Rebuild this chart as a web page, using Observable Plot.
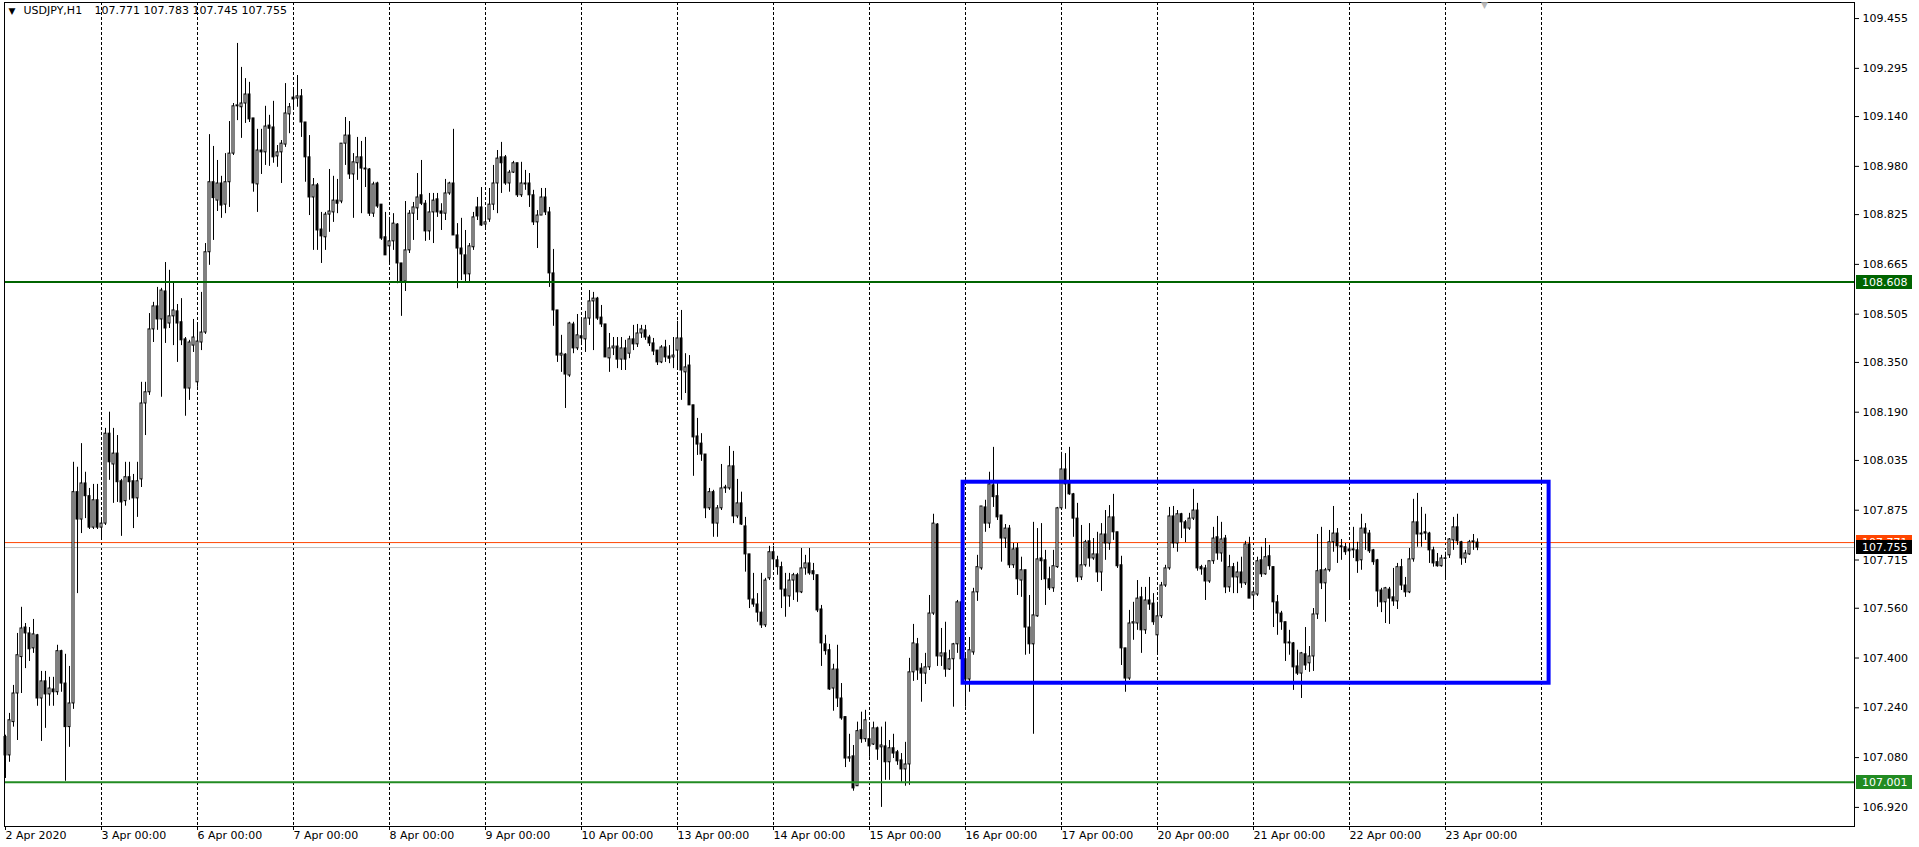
<!DOCTYPE html>
<html><head><meta charset="utf-8">
<script src="https://cdn.jsdelivr.net/npm/d3@7"></script>
<script src="https://cdn.jsdelivr.net/npm/@observablehq/plot@0.6"></script>
<style>html,body{margin:0;padding:0;background:#fff;overflow:hidden}</style>
</head><body><div id="chart"></div>
<script>
// ---- data ----
const symbol = "USDJPY,H1";
const lastOHLC = [107.771, 107.783, 107.745, 107.755];
const dayLabels = ["2 Apr 2020","3 Apr 00:00","6 Apr 00:00","7 Apr 00:00","8 Apr 00:00","9 Apr 00:00","10 Apr 00:00","13 Apr 00:00","14 Apr 00:00","15 Apr 00:00","16 Apr 00:00","17 Apr 00:00","20 Apr 00:00","21 Apr 00:00","22 Apr 00:00","23 Apr 00:00"];
const priceTicks = [109.455,109.295,109.140,108.980,108.825,108.665,108.505,108.350,108.190,108.035,107.875,107.715,107.560,107.400,107.240,107.080,106.920];
const levelUpper = 108.608, levelLower = 107.001;
const askPrice = 107.771, bidPrice = 107.755;
const boxBars = [239.4, 385.9], boxPrices = [107.319, 107.965];
const shiftBar = 369.75;

const open = [
107.146,107.087,107.194,107.286,107.403,107.498,107.479,107.431,107.473,107.270,107.325,107.283,107.299,107.290,107.422,107.318,107.178,107.254,107.933,107.845,107.961,107.920,107.819,107.907,
107.819,107.832,108.121,108.022,108.057,107.968,107.904,107.981,107.968,107.913,107.974,108.218,108.254,108.456,108.530,108.488,108.578,108.475,108.498,108.514,108.479,108.424,108.266,108.404,
108.286,108.414,108.446,108.704,108.929,108.870,108.925,108.857,108.929,109.021,109.173,109.170,109.182,109.211,109.134,108.922,109.031,109.025,109.111,109.105,109.012,109.025,109.050,109.147,
109.201,109.198,109.205,109.121,109.009,108.880,108.919,108.777,108.752,108.825,108.832,108.870,108.867,109.053,109.079,108.954,108.990,109.009,108.973,108.970,108.828,108.925,108.857,108.752,
108.723,108.739,108.793,108.668,108.610,108.710,108.828,108.845,108.887,108.860,108.771,108.832,108.874,108.835,108.828,108.893,108.925,108.758,108.716,108.694,108.633,108.720,108.848,108.848,
108.793,108.809,108.857,108.925,109.009,109.009,108.925,108.960,108.990,108.887,108.925,108.925,108.887,108.800,108.822,108.880,108.832,108.636,108.517,108.372,108.375,108.308,108.472,108.395,
108.434,108.424,108.491,108.546,108.555,108.494,108.472,108.363,108.395,108.401,108.359,108.395,108.378,108.424,108.408,108.443,108.453,108.430,108.411,108.388,108.350,108.398,108.369,108.366,
108.388,108.427,108.318,108.340,108.212,108.112,108.089,108.054,107.881,107.933,107.832,107.881,107.945,107.945,108.016,107.855,107.897,107.823,107.733,107.588,107.572,107.546,107.505,107.656,
107.740,107.714,107.692,107.620,107.598,107.649,107.666,107.611,107.688,107.704,107.679,107.666,107.556,107.444,107.425,107.302,107.363,107.270,107.210,107.077,107.084,106.988,107.168,107.139,
107.139,107.122,107.174,107.113,107.116,107.065,107.110,107.097,107.071,107.042,107.058,107.354,107.444,107.366,107.350,107.370,107.543,107.829,107.405,107.415,107.363,107.396,107.444,107.579,
107.396,107.331,107.418,107.611,107.688,107.884,107.832,107.955,107.920,107.858,107.784,107.816,107.698,107.752,107.649,107.682,107.498,107.444,107.534,107.720,107.714,107.653,107.624,107.692,
107.881,108.006,107.961,107.926,107.848,107.659,107.698,107.775,107.720,107.733,107.675,107.797,107.768,107.852,107.804,107.698,107.431,107.334,107.511,107.511,107.595,107.489,107.585,107.575,
107.473,107.534,107.633,107.688,107.855,107.768,107.862,107.836,107.816,107.848,107.874,107.692,107.688,107.646,107.711,107.788,107.736,107.784,107.627,107.692,107.659,107.675,107.640,107.765,
107.601,107.604,107.714,107.669,107.727,107.692,107.579,107.543,107.515,107.447,107.447,107.373,107.350,107.412,107.383,107.405,107.540,107.682,107.640,107.682,107.772,107.800,107.759,107.756,
107.749,107.746,107.746,107.714,107.816,107.800,107.746,107.714,107.617,107.579,107.620,107.595,107.582,107.692,107.633,107.611,107.717,107.836,107.800,107.804,107.800,107.746,107.708,107.695,
107.720,107.730,107.778,107.820,107.772,107.720,107.733,107.772,107.771];

const high = [
107.152,107.222,107.312,107.479,107.563,107.511,107.498,107.524,107.476,107.357,107.357,107.338,107.338,107.441,107.425,107.412,107.373,108.029,108.013,108.089,107.997,107.945,107.958,107.958,
107.842,108.138,108.190,108.138,108.115,107.974,108.029,108.029,107.990,108.029,108.286,108.286,108.507,108.543,108.591,108.588,108.671,108.646,108.607,108.536,108.555,108.430,108.421,108.488,
108.472,108.575,108.732,109.082,109.044,108.999,108.948,109.021,109.124,109.182,109.375,109.298,109.262,109.250,109.134,109.099,109.099,109.173,109.144,109.189,109.047,109.063,109.246,109.182,
109.230,109.272,109.227,109.121,109.079,108.941,108.925,108.832,108.832,108.970,108.948,108.938,109.053,109.137,109.124,109.021,109.073,109.060,109.073,108.973,108.929,108.929,108.857,108.832,
108.816,108.828,108.796,108.668,108.867,108.838,108.864,108.957,108.999,108.870,108.893,108.893,108.893,108.860,108.938,108.929,109.099,108.796,108.813,108.774,108.732,108.832,108.880,108.912,
108.845,108.909,108.983,109.031,109.057,109.015,108.967,108.996,108.990,108.993,108.967,108.957,108.903,108.838,108.909,108.909,108.848,108.713,108.517,108.437,108.378,108.479,108.479,108.504,
108.485,108.514,108.581,108.575,108.559,108.533,108.472,108.443,108.430,108.430,108.430,108.421,108.434,108.469,108.472,108.469,108.469,108.437,108.427,108.388,108.404,108.421,108.404,108.430,
108.482,108.517,108.378,108.372,108.212,108.170,108.121,108.054,107.945,107.939,107.890,108.022,107.955,108.080,108.064,107.974,107.933,107.852,107.733,107.672,107.607,107.672,107.656,107.759,
107.759,107.727,107.708,107.672,107.672,107.672,107.672,107.752,107.730,107.752,107.704,107.666,107.569,107.473,107.444,107.380,107.441,107.318,107.210,107.155,107.119,107.194,107.226,107.232,
107.184,107.194,107.178,107.178,107.194,107.135,107.155,107.103,107.093,107.129,107.399,107.508,107.463,107.382,107.415,107.601,107.862,107.832,107.495,107.515,107.425,107.447,107.585,107.585,
107.409,107.466,107.624,107.730,107.887,107.907,107.997,108.077,107.961,107.858,107.829,107.826,107.768,107.768,107.724,107.682,107.601,107.836,107.816,107.832,107.746,107.692,107.746,107.884,
108.061,108.057,108.077,107.929,107.897,107.826,107.778,107.832,107.784,107.804,107.832,107.874,107.890,107.926,107.804,107.727,107.431,107.553,107.579,107.649,107.627,107.627,107.659,107.607,
107.579,107.643,107.698,107.884,107.887,107.874,107.865,107.842,107.865,107.942,107.897,107.698,107.698,107.711,107.820,107.855,107.836,107.794,107.730,107.704,107.708,107.724,107.775,107.788,
107.627,107.724,107.756,107.784,107.762,107.692,107.601,107.550,107.515,107.489,107.450,107.425,107.418,107.498,107.437,107.559,107.797,107.820,107.688,107.810,107.887,107.816,107.781,107.768,
107.768,107.820,107.772,107.862,107.832,107.810,107.749,107.717,107.624,107.627,107.627,107.688,107.704,107.717,107.659,107.752,107.910,107.929,107.884,107.862,107.804,107.756,107.736,107.730,
107.740,107.784,107.852,107.862,107.775,107.746,107.778,107.797,107.783];

const low = [
107.013,107.065,107.178,107.135,107.286,107.366,107.389,107.415,107.245,107.132,107.174,107.245,107.245,107.280,107.290,107.004,107.113,107.235,107.607,107.800,107.848,107.813,107.813,107.813,
107.784,107.826,107.971,107.897,107.900,107.791,107.888,107.907,107.816,107.852,107.948,108.115,108.244,108.414,108.453,108.238,108.411,108.459,108.404,108.350,108.404,108.177,108.228,108.382,
108.270,108.388,108.440,108.662,108.742,108.835,108.813,108.828,108.848,109.015,109.127,109.070,109.118,109.121,108.897,108.832,108.954,108.983,108.980,108.990,108.977,108.925,109.041,109.085,
109.166,109.170,109.073,108.929,108.822,108.710,108.710,108.668,108.710,108.768,108.800,108.828,108.860,108.983,108.938,108.813,108.935,108.828,108.912,108.819,108.816,108.845,108.742,108.694,
108.668,108.710,108.603,108.498,108.578,108.700,108.742,108.806,108.854,108.739,108.742,108.732,108.816,108.774,108.806,108.887,108.758,108.587,108.613,108.610,108.610,108.710,108.806,108.787,
108.774,108.800,108.838,108.828,108.893,108.919,108.897,108.957,108.880,108.880,108.903,108.848,108.790,108.716,108.822,108.822,108.591,108.466,108.350,108.318,108.202,108.302,108.378,108.388,
108.404,108.382,108.469,108.388,108.485,108.462,108.366,108.318,108.372,108.330,108.324,108.324,108.362,108.388,108.398,108.427,108.421,108.401,108.372,108.340,108.346,108.350,108.346,108.330,
108.324,108.228,108.250,108.212,107.984,108.051,108.032,107.848,107.874,107.788,107.788,107.874,107.929,107.939,107.832,107.848,107.826,107.676,107.559,107.563,107.515,107.495,107.498,107.649,
107.682,107.666,107.559,107.531,107.563,107.585,107.579,107.607,107.666,107.666,107.649,107.546,107.373,107.409,107.296,107.229,107.241,107.200,107.048,107.065,106.972,106.988,107.126,107.129,
107.081,107.119,107.071,106.920,107.007,107.007,107.077,107.055,106.997,106.988,106.991,107.325,107.328,107.258,107.315,107.360,107.537,107.373,107.373,107.338,107.360,107.242,107.415,107.392,
107.242,107.290,107.409,107.582,107.682,107.804,107.816,107.884,107.842,107.708,107.752,107.688,107.688,107.601,107.595,107.409,107.412,107.155,107.531,107.649,107.569,107.617,107.611,107.688,
107.874,107.878,107.923,107.788,107.643,107.649,107.692,107.692,107.714,107.643,107.614,107.714,107.746,107.778,107.688,107.376,107.290,107.328,107.457,107.489,107.415,107.476,107.553,107.505,
107.409,107.527,107.627,107.682,107.752,107.740,107.784,107.771,107.810,107.842,107.679,107.666,107.585,107.640,107.701,107.714,107.708,107.607,107.611,107.607,107.607,107.624,107.633,107.591,
107.553,107.598,107.659,107.666,107.682,107.498,107.473,107.489,107.389,107.409,107.296,107.344,107.270,107.360,107.354,107.357,107.524,107.620,107.515,107.676,107.740,107.704,107.714,107.730,
107.588,107.720,107.672,107.682,107.746,107.736,107.698,107.563,107.546,107.511,107.508,107.566,107.556,107.617,107.595,107.607,107.708,107.756,107.756,107.778,107.704,107.692,107.692,107.692,
107.649,107.720,107.746,107.762,107.698,107.704,107.730,107.746,107.745];

const close = [
107.087,107.200,107.286,107.409,107.495,107.479,107.428,107.476,107.270,107.325,107.283,107.302,107.290,107.422,107.318,107.178,107.254,107.933,107.845,107.961,107.920,107.819,107.907,107.819,
107.832,108.121,108.029,108.057,107.965,107.900,107.981,107.965,107.913,107.968,108.218,108.254,108.456,108.530,108.488,108.581,108.459,108.498,108.517,108.475,108.421,108.266,108.414,108.430,
108.417,108.446,108.704,108.929,108.878,108.925,108.854,108.929,109.021,109.173,109.176,109.182,109.211,109.131,108.925,109.031,109.025,109.108,109.101,109.009,109.025,109.053,109.150,109.170,
109.195,109.205,109.121,109.009,108.880,108.919,108.774,108.755,108.825,108.835,108.870,108.860,109.053,109.079,108.954,108.993,109.009,108.973,108.970,108.828,108.922,108.851,108.748,108.694,
108.739,108.796,108.668,108.610,108.710,108.828,108.848,108.880,108.860,108.771,108.832,108.870,108.832,108.828,108.893,108.925,108.758,108.716,108.697,108.633,108.723,108.816,108.819,108.790,
108.800,108.857,108.925,109.005,108.990,108.925,108.960,108.990,108.887,108.925,108.922,108.887,108.800,108.822,108.880,108.832,108.636,108.517,108.372,108.378,108.311,108.475,108.395,108.437,
108.427,108.491,108.546,108.555,108.491,108.472,108.366,108.395,108.401,108.359,108.395,108.359,108.424,108.408,108.443,108.456,108.430,108.411,108.385,108.350,108.398,108.366,108.362,108.372,
108.427,108.324,108.334,108.212,108.109,108.086,108.054,107.881,107.933,107.832,107.881,107.945,107.948,108.016,107.855,107.897,107.829,107.733,107.588,107.572,107.546,107.505,107.649,107.740,
107.717,107.692,107.620,107.598,107.649,107.666,107.611,107.688,107.704,107.672,107.669,107.553,107.447,107.422,107.299,107.363,107.270,107.206,107.077,107.081,106.981,107.165,107.139,107.200,
107.116,107.174,107.106,107.119,107.065,107.110,107.093,107.068,107.042,107.058,107.354,107.447,107.360,107.350,107.370,107.543,107.832,107.405,107.415,107.363,107.396,107.444,107.579,107.396,
107.331,107.425,107.611,107.692,107.887,107.832,107.958,107.917,107.852,107.784,107.816,107.698,107.749,107.653,107.682,107.498,107.444,107.537,107.717,107.711,107.653,107.624,107.695,107.881,
108.006,107.958,107.926,107.848,107.659,107.698,107.772,107.720,107.733,107.675,107.797,107.768,107.852,107.804,107.695,107.431,107.334,107.511,107.515,107.591,107.489,107.585,107.572,107.515,
107.534,107.633,107.688,107.855,107.768,107.862,107.836,107.816,107.848,107.874,107.688,107.685,107.646,107.711,107.784,107.736,107.781,107.627,107.692,107.659,107.675,107.640,107.765,107.591,
107.611,107.711,107.669,107.724,107.695,107.579,107.543,107.515,107.447,107.450,107.370,107.350,107.415,107.376,107.405,107.540,107.679,107.640,107.682,107.772,107.800,107.759,107.756,107.740,
107.743,107.749,107.711,107.816,107.800,107.743,107.708,107.614,107.579,107.624,107.591,107.582,107.692,107.633,107.611,107.717,107.836,107.797,107.797,107.800,107.746,107.704,107.695,107.720,
107.719,107.781,107.820,107.775,107.720,107.736,107.772,107.775,107.755];

// ---- build ----
const bars = open.map((o, i) => ({i, o, h: high[i], l: low[i], c: close[i]}));
const bodies = bars.map(d => {
  let lo = Math.min(d.o, d.c), hi = Math.max(d.o, d.c);
  if (hi - lo < 0.0016) { const m = (hi + lo) / 2; lo = m - 0.0008; hi = m + 0.0008; }
  return {i: d.i, lo, hi, up: d.c >= d.o};
});
const dayTicks = dayLabels.map((_, k) => k * 24);
const gridTicks = d3.range(24, 24 * (dayLabels.length + 1), 24);
const font = "'DejaVu Sans', Verdana, sans-serif";

const chart = Plot.plot({
  width: 1919, height: 847,
  marginLeft: 4, marginRight: 65, marginTop: 2, marginBottom: 21,
  style: {fontFamily: font, fontSize: "11px", background: "#fff", color: "#000"},
  x: {type: "linear", domain: [-0.25, 462.25], axis: null},
  y: {type: "linear", domain: [106.8586, 109.5066], axis: null},
  marks: [
    Plot.ruleX(gridTicks, {stroke: "#000", strokeDasharray: "3,2"}),
    Plot.ruleY([askPrice], {stroke: "#FF4500"}),
    Plot.ruleY([bidPrice], {stroke: "#C0C0C0"}),
    Plot.ruleX(bars, {x: "i", y1: "l", y2: "h", stroke: "#000"}),
    Plot.rect(bodies, {x1: d => d.i - 0.25, x2: d => d.i + 0.25, y1: "lo", y2: "hi",
      fill: d => d.up ? "#ffffff" : "#000000", stroke: "#000", strokeWidth: 1}),
    Plot.ruleY([levelUpper], {stroke: "#006400", strokeWidth: 2}),
    Plot.ruleY([levelLower], {stroke: "#228B22", strokeWidth: 2}),
    Plot.rect([{x1: boxBars[0], x2: boxBars[1], y1: boxPrices[0], y2: boxPrices[1]}],
      {x1: "x1", x2: "x2", y1: "y1", y2: "y2", fill: "none", stroke: "#0000FF", strokeWidth: 4}),
    Plot.frame({stroke: "#000"}),
    Plot.axisY(priceTicks, {anchor: "right", tickSize: 4, tickPadding: 4, tickFormat: d3.format(".3f"), label: null, fontSize: 11}),
    Plot.axisX(dayTicks, {anchor: "bottom", tickSize: 4, tickPadding: 1, tickFormat: d => dayLabels[d / 24], textAnchor: "start", label: null, fontSize: 11}),
    Plot.text(["▼"], {frameAnchor: "top-left", dx: 4, dy: 5, fontSize: 9, fill: "#000"}),
    Plot.text([symbol], {frameAnchor: "top-left", dx: 19, dy: 4, fontSize: 11, fill: "#000"}),
    Plot.text([lastOHLC.map(v => v.toFixed(3)).join(" ")], {frameAnchor: "top-left", dx: 90, dy: 4, fontSize: 11, fill: "#000"}),
    Plot.text([shiftBar], {x: d => d, frameAnchor: "top", dy: -1, text: () => "▼", fontSize: 9, fill: "#b8b8b8"})
  ]
});

// price tags on the right axis
const ys = chart.scale("y");
const svg = d3.select(chart);
const tags = [[askPrice, "#FF4500"], [levelUpper, "#006400"], [levelLower, "#228B22"], [bidPrice, "#000000"]];
const g = svg.append("g").attr("font-family", font).attr("font-size", 11).attr("text-anchor", "start");
const xr = 1919 - 65;
for (const [v, col] of tags) {
  const y = ys.apply(v);
  g.append("rect").attr("x", xr + 2).attr("y", Math.round(y) - 7).attr("width", 56).attr("height", 14).attr("fill", col);
  g.append("text").attr("x", xr + 8).attr("y", Math.round(y)).attr("dy", "0.36em").attr("text-anchor", "start").attr("fill", "#fff").text(v.toFixed(3));
}
document.getElementById("chart").appendChild(chart);
</script>
</body></html>
